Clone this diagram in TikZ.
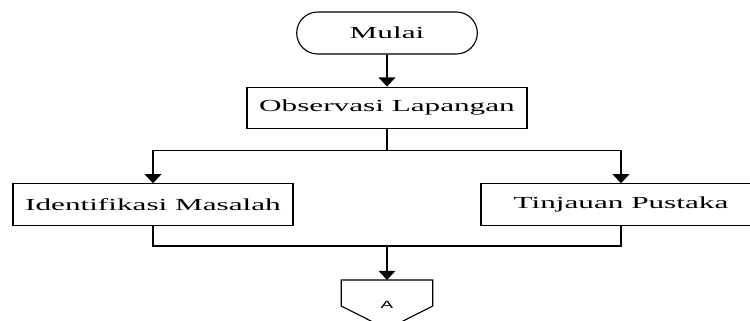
\documentclass[tikz,border=0pt]{standalone}
\usepackage{fontspec}
\setmainfont{Liberation Serif}
\newfontfamily\flowfont[FakeStretch=1.85]{Liberation Serif}
\newfontfamily\connfont[FakeStretch=1.8]{Liberation Sans}
\usepackage{tikz}
\usetikzlibrary{shapes.misc, arrows.meta, positioning, calc}

\begin{document}
\begin{tikzpicture}[
    node distance=0.8cm,
    terminal/.style={rounded rectangle, draw=black, line width=0.8pt, minimum width=4.75cm, minimum height=1.05cm, font=\flowfont\fontsize{12}{14}\selectfont},
    process/.style={rectangle, draw=black, line width=0.8pt, minimum width=7cm, minimum height=1.04cm, font=\flowfont\fontsize{12}{14}\selectfont},
    offpage/.style={rectangle, minimum width=2.275cm, minimum height=1.2125cm, inner sep=0pt, font=\connfont\fontsize{7.5}{9}\selectfont},
    arrow/.style={-{Triangle[length=0.23cm,width=0.42cm]}, line width=1.1pt},
    line/.style={line width=1.1pt}
]
\useasboundingbox (0,0) rectangle (18.75,-8.025);

% Start
\node[terminal] (start) at (9.675,-0.825) {Mulai};
\node[process, below=of start] (obs) {Observasi Lapangan};
\coordinate[below=0.525cm of obs] (split);

% Branches
\node[process, below=1.35cm of obs, xshift=-5.85cm] (ident) {Identifikasi Masalah};
\node[process, below=1.35cm of obs, xshift=5.85cm] (tinjau) {Tinjauan Pustaka};
\coordinate (join) at ($(obs |- ident.south)+(0,-0.5cm)$);

% Off-page connector
\node[offpage, below=0.85cm of join] (conA) {A};
\draw[line width=0.8pt] (conA.north west) -- ++(0,-0.65cm) -- (conA.south) -- ($(conA.north east)+(0,-0.65cm)$) -- (conA.north east) -- cycle;

% Arrows
\draw[arrow] (start) -- (obs);
\draw[line] (obs) -- (split);
\draw[arrow] (split) -| (ident);
\draw[arrow] (split) -| (tinjau);
\draw[line] (ident) |- (join) -| (tinjau);
\draw[arrow] (join) -- (conA);

\end{tikzpicture}
\end{document}
